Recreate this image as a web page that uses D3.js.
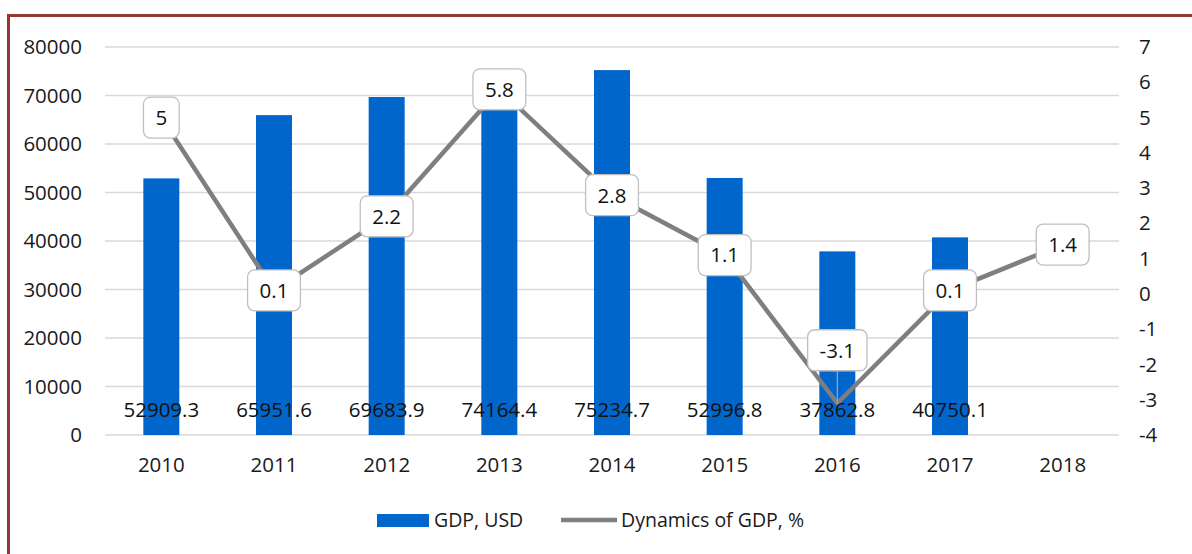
<!DOCTYPE html>
<html>
<head>
<meta charset="utf-8">
<script src="https://cdn.jsdelivr.net/npm/d3@7"></script>
<style>
  html,body{margin:0;padding:0;background:#fff;}
  svg{display:block;}
  text{font-family:"Open Sans",sans-serif;fill:#1a1a1a;}
</style>
</head>
<body>
<div id="chart"></div>
<script>
const years = ['2010','2011','2012','2013','2014','2015','2016','2017','2018'];
const gdpUsd = [52909.3, 65951.6, 69683.9, 74164.4, 75234.7, 52996.8, 37862.8, 40750.1, null];
const gdpGrowth = [5, 0.1, 2.2, 5.8, 2.8, 1.1, -3.1, 0.1, 1.4];
const leftTicks = [0,10000,20000,30000,40000,50000,60000,70000,80000];
const rightTicks = [-4,-3,-2,-1,0,1,2,3,4,5,6,7];
const seriesNames = ['GDP, USD','Dynamics of GDP, %'];

(function(){
  const W = 1192, H = 554;
  const m = {top:47,right:73,bottom:119,left:105};
  const w = W-m.left-m.right, h = H-m.top-m.bottom;
  const blue = '#0066cc', grey = '#7f7f7f';
  const fs = '20.5px', ink = '#1a1a1a';
  const fmt = d => String(d);   // plain hyphen minus, like the original

  const svg = d3.select('#chart').append('svg').attr('width',W).attr('height',H);

  // outer frame
  svg.append('rect').attr('x',8.5).attr('y',15.5).attr('width',1400).attr('height',900)
    .attr('fill','none').attr('stroke','#953735').attr('stroke-width',3);

  const g = svg.append('g').attr('transform',`translate(${m.left},${m.top})`);

  const x = d3.scaleBand().domain(years).range([0,w]).padding(0);
  const yL = d3.scaleLinear().domain([0,80000]).range([h,0]);
  const yR = d3.scaleLinear().domain([-4,7]).range([h,0]);
  const cx = yr => x(yr)+x.bandwidth()/2;

  // grid
  g.append('g').selectAll('line').data(leftTicks).join('line')
    .attr('x1',0).attr('x2',w).attr('y1',d=>yL(d)).attr('y2',d=>yL(d))
    .attr('stroke','#d9d9d9').attr('stroke-width',1.3);

  const styleAx = a => {
    a.select('.domain').remove();
    a.selectAll('text').style('font-family','"Open Sans",sans-serif').style('font-size',fs).style('fill',ink);
  };

  // left axis
  g.append('g').call(d3.axisLeft(yL).tickValues(leftTicks).tickSize(0).tickPadding(23).tickFormat(fmt)).call(styleAx);
  // right axis
  g.append('g').attr('transform',`translate(${w},0)`)
    .call(d3.axisRight(yR).tickValues(rightTicks).tickSize(0).tickPadding(20).tickFormat(fmt)).call(styleAx);
  // x axis
  g.append('g').attr('transform',`translate(0,${h})`)
    .call(d3.axisBottom(x).tickSize(0).tickPadding(22)).call(styleAx);

  // bars
  const barW = 36;
  const bars = years.map((yr,i)=>({yr, v:gdpUsd[i]})).filter(d=>d.v!=null);
  g.append('g').selectAll('rect').data(bars).join('rect')
    .attr('x',d=>cx(d.yr)-barW/2).attr('width',barW)
    .attr('y',d=>yL(d.v)).attr('height',d=>h-yL(d.v))
    .attr('fill',blue);

  // line
  const pts = years.map((yr,i)=>({yr, v:gdpGrowth[i]}));
  const line = d3.line().x(d=>cx(d.yr)).y(d=>yR(d.v));
  g.append('path').datum(pts).attr('d',line)
    .attr('fill','none').attr('stroke',grey).attr('stroke-width',4.5).attr('stroke-linejoin','round');

  // bar value labels
  g.append('g').selectAll('text').data(bars).join('text')
    .attr('x',d=>cx(d.yr)).attr('y',h-18).attr('text-anchor','middle')
    .style('font-size',fs).style('fill','#111')
    .text(d=>d.v.toFixed(1));

  // line value labels (boxed); the low one sits above with a leader
  const lab = g.append('g').selectAll('g').data(pts).join('g')
    .attr('transform',d=>{
      const dy = d.v < -2 ? -53 : 0;
      return `translate(${cx(d.yr)},${yR(d.v)+dy})`;
    });
  lab.filter(d=>d.v < -2).append('line')
    .attr('x1',0).attr('x2',0).attr('y1',18).attr('y2',53)
    .attr('stroke','#a6a6a6').attr('stroke-width',1.2);
  const rects = lab.append('rect').attr('fill','#fff').attr('stroke','#bfbfbf').attr('stroke-width',1.3)
    .attr('rx',7).attr('ry',7);
  const txt = lab.append('text').attr('text-anchor','middle').attr('dy','0.36em')
    .style('font-size',fs).style('fill','#111')
    .text(d=>fmt(d.v));
  txt.each(function(d){ d.bw = this.getComputedTextLength() + 24; });
  rects.attr('x',d=>-d.bw/2).attr('y',-20.5).attr('width',d=>d.bw).attr('height',41);

  // legend
  const lg = svg.append('g').attr('transform','translate(377,520)');
  lg.append('rect').attr('x',0).attr('y',-6).attr('width',52).attr('height',13).attr('fill',blue);
  lg.append('text').attr('x',57).attr('y',0).attr('dy','0.35em').style('font-size','19.5px').text(seriesNames[0]);
  lg.append('line').attr('x1',184).attr('x2',240).attr('y1',0).attr('y2',0)
    .attr('stroke',grey).attr('stroke-width',4.5);
  lg.append('text').attr('x',244).attr('y',0).attr('dy','0.35em').style('font-size','19.5px').text(seriesNames[1]);
})();
</script>
</body>
</html>
